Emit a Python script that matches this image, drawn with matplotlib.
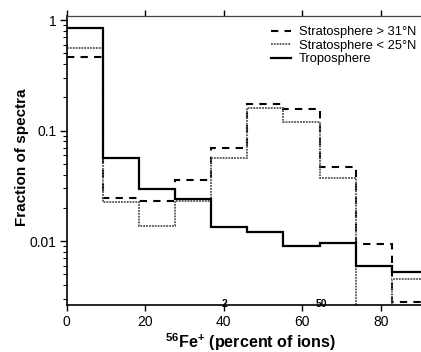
import numpy as np
import matplotlib
matplotlib.use('Agg')
import matplotlib.pyplot as plt
from matplotlib.ticker import FixedLocator, FuncFormatter, LogLocator

plt.rcParams['font.family'] = ['Liberation Sans', 'DejaVu Sans']
plt.rcParams['mathtext.fontset'] = 'custom'
plt.rcParams['mathtext.rm'] = 'Liberation Sans:bold'
plt.rcParams['mathtext.bf'] = 'Liberation Sans:bold'

# bin edges (percent of ions) and fraction of spectra per bin
edges = [0, 9.2, 18.4, 27.6, 36.8, 46.0, 55.2, 64.4, 73.6, 82.8, 92.0]
strat_north = [0.466, 0.0247, 0.023, 0.0356, 0.069, 0.174, 0.157, 0.047, 0.0095, 0.0028]
strat_south = [0.56, 0.0227, 0.0138, 0.023, 0.057, 0.159, 0.12, 0.037, 1e-4, 0.0045]
tropo = [0.84, 0.056, 0.0296, 0.024, 0.0135, 0.012, 0.0090, 0.0097, 0.0060, 0.0052]

fig = plt.figure(figsize=(4.21, 3.52), dpi=100)
ax = fig.add_axes([0.158, 0.1335, 0.842, 0.821])

ax.stairs(strat_north, edges, baseline=None, color='black', lw=1.5,
          linestyle=(0, (3.5, 3)), label='Stratosphere > 31°N')
ax.stairs(strat_south, edges, baseline=None, color='#555555', lw=1.3,
          linestyle=(0, (1, 0.6)), label='Stratosphere < 25°N')
ax.stairs(tropo, edges, baseline=None, color='black', lw=1.6,
          label='Troposphere')

ax.set_yscale('log')
ax.set_xlim(0, 90.2)
ax.set_ylim(0.00264, 1.087)

ax.xaxis.set_major_locator(FixedLocator([0, 20, 40, 60, 80]))
ax.yaxis.set_major_locator(FixedLocator([0.01, 0.1, 1]))
ax.yaxis.set_major_formatter(FuncFormatter(lambda v, p: '{:g}'.format(v)))
ax.yaxis.set_minor_locator(LogLocator(base=10, subs=np.arange(2, 10)))
ax.yaxis.set_minor_formatter(FuncFormatter(lambda v, p: ''))

ax.tick_params(axis='x', which='both', top=True, direction='out',
               labelsize=10, length=4, width=1, pad=3)
ax.tick_params(axis='y', which='major', direction='out', labelsize=10,
               length=5, width=1, pad=2)
ax.tick_params(axis='y', which='minor', direction='out', length=3, width=0.8)
ax.spines['right'].set_visible(False)
for s in ['left', 'bottom']:
    ax.spines[s].set_linewidth(1.2)
ax.spines['top'].set_linewidth(0.9)
ax.spines['top'].set_color('#444444')

ax.set_ylabel('Fraction of spectra', fontsize=11, fontweight='bold',
              va='center')
ax.yaxis.set_label_coords(-0.1255, 0.512)
ax.set_xlabel(r'$^{56}$Fe$^{+}$ (percent of ions)', fontsize=11.6,
              fontweight='bold', va='center')
ax.xaxis.set_label_coords(0.52, -0.128)

# stray labels in the scanned figure
ax.text(40.3, 0.00268, '2', fontsize=7.5, fontweight='bold', ha='center', va='center')
ax.text(64.8, 0.00268, '50', fontsize=7.5, fontweight='bold', ha='center', va='center')

ax.legend(loc='upper right', frameon=False, fontsize=9.3, handlelength=1.6,
          handletextpad=0.55, labelspacing=0.11, borderaxespad=0.0,
          bbox_to_anchor=(1.0, 0.982))

fig.savefig('out.png', dpi=100)
